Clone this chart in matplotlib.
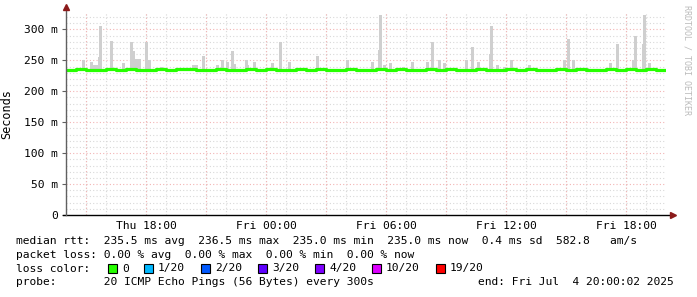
import matplotlib
matplotlib.use("Agg")
import matplotlib.pyplot as plt
from matplotlib.patches import Rectangle

# ---- data (hours since Thu 14:00, values in seconds) ----
median_hours = [i * 0.5 for i in range(60)]
median_ms = [235.0, 235.8, 235.0, 235.0, 235.8, 235.0, 235.8, 235.0, 235.0, 235.8,
             235.0, 235.8, 235.8, 235.0, 235.0, 235.8, 235.0, 235.0, 235.8, 235.0,
             235.8, 235.0, 235.0, 235.8, 235.0, 235.8, 235.0, 235.0, 235.8, 235.0,
             235.0, 235.8, 235.0, 235.8, 235.0, 235.0, 235.8, 235.0, 235.8, 235.0,
             235.0, 235.8, 235.0, 235.0, 235.8, 235.0, 235.8, 235.0, 235.0, 235.8,
             235.0, 235.8, 235.0, 235.0, 235.8, 235.0, 235.8, 235.0, 235.8, 235.0]

smoke_hours = [0.85, 1.25, 1.35, 1.5, 1.65, 1.7, 2.25, 2.85, 3.25, 3.35, 3.5, 3.65,
               4.0, 4.15, 4.75, 6.35, 6.5, 6.85, 7.55, 7.8, 8.05, 8.3, 8.4, 9.0,
               9.1, 9.4, 10.3, 10.7, 11.15, 12.55, 14.05, 15.3, 15.65, 15.7, 15.9,
               16.2, 16.85, 17.3, 18.05, 18.3, 18.65, 18.9, 20.0, 20.3, 20.6, 21.2,
               21.25, 21.55, 21.9, 22.25, 23.15, 24.9, 25.1, 25.35, 26.05, 27.2,
               27.55, 28.35, 28.45, 28.85, 28.9, 29.15]
smoke_top_ms = [250, 248, 242, 242, 256, 305, 281, 245, 279, 265, 253, 253,
                279, 250, 239, 243, 243, 257, 243, 251, 247, 265, 244, 251,
                243, 248, 245, 279, 247, 257, 250, 247, 266, 323, 243,
                245, 239, 247, 247, 279, 250, 245, 250, 271, 247, 261,
                306, 243, 239, 250, 242, 250, 285, 250, 238, 245,
                277, 251, 289, 277, 323, 245]

tick_hours = [4, 10, 16, 22, 28]
tick_labels = ["Thu 18:00", "Fri 00:00", "Fri 06:00", "Fri 12:00", "Fri 18:00"]
ytick_vals = [0, 0.05, 0.10, 0.15, 0.20, 0.25, 0.30]
ytick_labels = ["0", "50 m", "100 m", "150 m", "200 m", "250 m", "300 m"]

loss_labels = ["0", "1/20", "2/20", "3/20", "4/20", "10/20", "19/20"]
loss_colors = ["#26ff00", "#00b8ff", "#0059ff", "#5e00ff", "#7e00ff", "#dd00ff", "#ff0000"]

W, H = 697, 297
fig = plt.figure(figsize=(W / 100, H / 100), dpi=100)
fig.patch.set_facecolor("white")
mono = "DejaVu Sans Mono"
fs = 8.13

x0, x1 = 66, 666
ytop, ybot = 13, 215
ax = fig.add_axes([x0 / W, 1 - ybot / H, (x1 - x0) / W, (ybot - ytop) / H])
ymax = 0.3266
ax.set_xlim(0, 30)
ax.set_ylim(0, ymax)
ax.set_facecolor("white")
for s in ax.spines.values():
    s.set_visible(False)

# grids
dot = (0, (1, 2))
for h in range(1, 31):
    if h % 3 == 0:
        continue
    ax.axvline(h, color="#d8d8d8", lw=0.8, ls=dot, zorder=1)
for v in range(1, 33):
    if v % 5 == 0:
        continue
    ax.axhline(v * 0.01, color="#d8d8d8", lw=0.8, ls=dot, zorder=1)
for h in range(1, 31, 3):
    ax.axvline(h, color="#f2b4b4", lw=0.8, ls=dot, zorder=1.2)
for v in range(1, 7):
    ax.axhline(v * 0.05, color="#f2b4b4", lw=0.8, ls=dot, zorder=1.2)

# smoke
bw = 0.15
for hh, top in zip(smoke_hours, smoke_top_ms):
    ax.bar(hh, top / 1000 - 0.235, bottom=0.235, width=bw, color="#cfcfcf",
           align="center", zorder=2, linewidth=0)

# median
med_x = median_hours + [30]
med_y = [m / 1000 for m in median_ms] + [median_ms[-1] / 1000]
ax.step(med_x, med_y, where="post", color="#26ff00", lw=2.3, zorder=3,
        solid_capstyle="butt")

# ticks
ax.set_xticks(tick_hours)
ax.set_xticklabels(tick_labels, fontsize=fs, family=mono)
ax.set_yticks(ytick_vals)
ax.set_yticklabels(ytick_labels, fontsize=fs, family=mono)
ax.tick_params(axis="x", length=0, pad=4)
ax.tick_params(axis="y", length=3, width=0.8, color="#606060", pad=3)
ax.set_ylabel("Seconds", fontsize=fs + 0.4, family=mono, labelpad=8)

# axes lines with arrows
ax.plot([-0.15, 30.3], [0, 0], color="black", lw=1.0, clip_on=False, zorder=5)
ax.plot([0, 0], [0, ymax + 0.006], color="#606060", lw=1.0, clip_on=False, zorder=5)
ax.plot([30.35], [0], marker=">", color="#8b1a1a", ms=4, clip_on=False, zorder=6)
ax.plot([0], [ymax + 0.009], marker="^", color="#8b1a1a", ms=4, clip_on=False, zorder=6)

# watermark
fig.text(687 / W, 1 - 5 / H, "RRDTOOL / TOBI OETIKER", rotation=270, ha="center",
         va="top", fontsize=6.0, family=mono, color="#bbbbbb")

# legend text
lines_y = [241, 255, 268.5, 282]
def t(x, y, s, **kw):
    fig.text(x / W, 1 - y / H, s, fontsize=fs, family=mono, va="center", ha="left", **kw)

t(16, lines_y[0], "median rtt:  235.5 ms avg  236.5 ms max  235.0 ms min  235.0 ms now  0.4 ms sd  582.8   am/s")
t(16, lines_y[1], "packet loss: 0.00 % avg  0.00 % max  0.00 % min  0.00 % now")
t(16, lines_y[2], "loss color:")
cx = 108
for lab, col in zip(loss_labels, loss_colors):
    fig.patches.append(Rectangle((cx / W, 1 - (lines_y[2] + 4.5) / H), 9 / W, 9 / H,
                                 transform=fig.transFigure, facecolor=col,
                                 edgecolor="black", lw=0.8))
    t(cx + 14, lines_y[2], lab)
    cx += 14 + 7 * len(lab) + 15
t(16, lines_y[3], "probe:       20 ICMP Echo Pings (56 Bytes) every 300s")
t(478, lines_y[3], "end: Fri Jul  4 20:00:02 2025")

fig.savefig("out.png", dpi=100, facecolor="white")
